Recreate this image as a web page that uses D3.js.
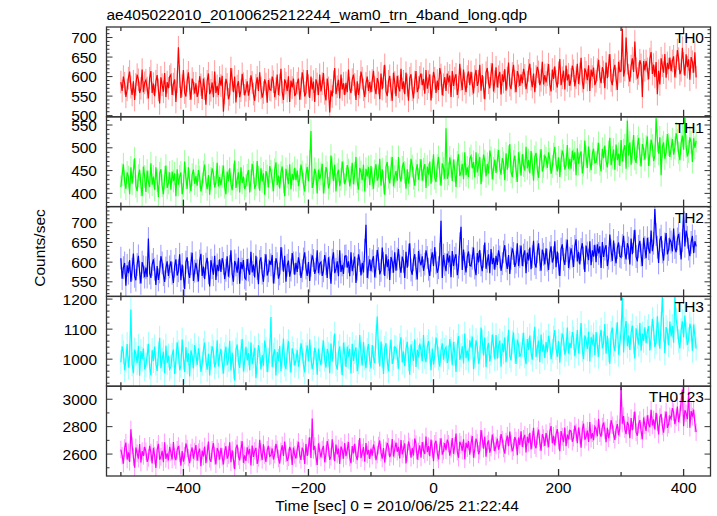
<!DOCTYPE html>
<html><head><meta charset="utf-8">
<script src="https://cdn.jsdelivr.net/npm/d3@7"></script>
<style>
html,body{margin:0;padding:0;background:#fff;}
text{font-family:"Liberation Sans",Arial,Helvetica,sans-serif;fill:#000;}
</style></head>
<body>
<svg id="chart" width="717" height="516"></svg>
<script>
const title = "ae405022010_20100625212244_wam0_trn_4band_long.qdp";
const xLabel = "Time [sec] 0 = 2010/06/25 21:22:44";
const yLabel = "Counts/sec";
const seriesNames = ["TH0","TH1","TH2","TH3","TH0123"];
const seriesColors = ["#ff0000","#00ff00","#0000ff","#00ffff","#ff00ff"];
const binStart = -500, binWidth = 2;
const xTickLabels = [-400,-200,0,200,400];
const errors = [29, 25, 29, 40, 64];
const yDomains = [[497,727],[371,568],[513,741],[910,1209],[2440,3095]];
const yMajor = [50,50,50,100,200];
const yMinor = [10,10,10,20,100];

const th0 = [
586,563,600,583,548,566,596,613,573,553,588,540,580,605,592,558,570,618,560,584,
591,571,544,596,614,558,582,550,588,604,566,531,598,579,561,609,548,586,570,600,
605,553,581,593,535,587,675,600,545,577,617,559,549,589,611,569,541,595,583,557,
583,548,561,601,579,543,595,569,528,588,608,555,565,585,547,613,558,576,553,598,
577,602,510,558,594,580,542,554,622,592,560,600,534,576,588,547,564,607,582,552,
565,588,551,568,603,585,555,538,578,598,563,611,571,546,559,593,581,533,591,567,
565,600,587,547,569,605,553,579,620,560,540,593,583,563,601,535,590,572,595,550,
557,583,595,541,569,611,589,549,559,617,577,545,600,567,587,535,593,581,553,605,
562,582,609,557,539,595,571,508,565,549,587,622,555,574,592,544,605,567,583,553,
584,560,618,570,558,592,605,580,540,588,553,573,613,596,566,548,583,600,563,586,
560,590,615,572,555,596,584,542,608,568,600,630,562,550,588,602,566,538,610,585,
550,602,574,562,620,568,588,555,610,578,538,596,606,566,544,586,614,560,572,598,
608,578,594,556,617,569,587,606,539,574,612,596,558,590,566,622,604,552,579,599,
563,608,585,603,548,614,576,596,606,553,573,633,592,566,618,582,560,600,613,578,
612,582,557,600,617,576,588,630,564,604,572,542,610,622,584,570,606,634,562,587,
624,572,600,612,554,606,586,619,564,596,636,578,568,608,630,588,560,614,602,576,
606,583,620,603,568,586,616,633,593,573,608,560,600,625,612,578,590,638,580,604,
585,605,632,580,562,618,594,626,588,572,610,645,578,597,615,567,628,590,606,576,
593,628,615,575,597,633,581,607,648,588,568,621,611,591,629,563,618,600,623,578,
588,618,643,600,583,624,612,570,636,596,628,658,590,578,616,630,594,566,638,613,
614,722,600,617,700,634,604,587,627,647,612,690,620,595,608,642,630,548,640,616,
640,620,593,645,663,607,631,599,637,555,615,580,647,628,610,658,597,635,619,649,
614,640,652,598,626,668,646,606,616,674,634,602,657,624,644,592,650,638,610,662,
598];
const th1 = [
414,441,464,425,410,446,436,398,457,421,450,477,416,405,439,452,419,394,459,437,
403,450,425,414,466,419,437,408,457,428,392,444,453,417,398,435,461,412,423,446,
408,448,427,444,394,453,419,437,446,398,416,470,434,410,457,425,405,441,452,421,
438,417,451,436,404,420,447,463,426,409,440,397,433,455,444,413,424,467,415,436,
418,437,461,414,398,448,427,455,421,407,441,472,412,429,446,402,457,423,437,410,
417,440,451,402,428,465,446,410,419,471,435,406,455,426,444,397,449,438,413,460,
448,429,405,452,468,418,439,411,445,459,425,394,454,437,420,464,409,443,429,456,
429,450,416,431,463,447,420,404,441,458,427,470,537,412,423,454,443,400,452,431,
443,465,400,425,458,445,411,422,483,456,427,463,404,442,452,416,431,470,447,420,
431,462,451,415,435,467,420,444,480,426,408,456,447,429,463,404,454,437,458,418,
460,433,410,449,464,428,438,476,417,453,424,397,458,469,435,422,455,480,415,437,
449,428,480,437,426,457,468,446,410,453,422,439,476,460,433,417,449,464,430,451,
475,428,453,464,412,459,441,470,421,450,486,434,425,461,480,443,417,466,455,432,
543,432,443,479,459,427,474,450,414,468,486,438,447,465,431,490,440,457,436,476,
482,455,469,435,490,446,463,480,420,451,485,471,437,465,444,494,478,431,455,474,
445,472,495,456,441,477,467,429,488,452,481,508,447,436,470,483,450,425,490,468,
439,486,461,450,502,455,473,444,493,464,428,480,489,453,434,471,497,448,459,482,
477,456,490,475,443,459,486,502,465,448,479,436,472,494,483,452,463,506,454,475,
454,494,473,490,440,499,465,483,492,444,462,516,480,456,503,471,451,487,498,467,
468,487,511,464,448,498,477,505,471,457,491,522,462,479,496,452,507,473,487,460,
517,470,495,506,454,560,483,512,463,492,528,476,467,503,522,485,459,508,497,474,
503,525,460,485,518,505,471,482,565,516,487,523,440,502,512,476,491,530,507,480,
498,519,485,500,532,516,489,473,510,527,496,570,503,481,492,523,512,469,521,500,
515];
const th2 = [
610,558,586,598,540,592,572,605,550,582,622,564,554,594,616,574,546,600,588,562,
586,562,660,572,560,594,607,582,542,590,555,575,615,598,568,550,585,602,565,588,
602,572,547,590,607,566,578,620,554,594,562,532,600,612,574,560,596,624,552,577,
598,578,551,603,621,565,589,557,595,611,573,538,605,586,568,616,555,593,577,607,
575,610,597,557,579,615,563,589,630,570,550,603,593,573,611,545,600,582,605,560,
556,608,580,568,626,574,594,561,616,584,544,602,612,572,550,592,620,566,578,604,
593,618,546,574,610,596,558,570,638,608,576,616,550,592,604,563,580,623,598,568,
598,575,612,595,560,578,608,625,585,565,600,552,592,617,604,570,582,630,572,596,
600,565,578,618,596,560,612,586,545,605,625,572,582,602,564,630,575,593,570,615,
616,586,602,564,625,577,595,614,547,582,620,604,566,598,574,630,695,560,587,607,
577,603,615,561,589,631,609,569,579,637,597,565,620,587,607,555,613,601,573,625,
578,608,633,590,573,614,602,560,626,586,618,648,580,568,606,620,584,556,628,603,
592,615,578,595,630,612,582,565,605,625,590,638,598,573,586,620,705,560,618,594,
577,622,599,617,562,628,590,610,620,567,587,647,690,580,632,596,574,614,627,592,
590,610,637,585,567,623,599,631,593,577,615,650,583,602,620,572,633,595,611,581,
616,593,630,613,578,596,626,643,603,583,618,570,610,635,622,588,600,648,590,614,
642,590,618,630,572,624,604,637,582,614,654,596,586,626,648,606,578,632,620,594,
635,605,580,623,640,599,611,653,587,627,595,565,633,645,607,593,629,657,585,610,
635,615,588,640,658,602,626,594,632,648,610,575,642,623,605,653,592,630,614,644,
600,645,622,640,585,651,613,633,643,590,610,670,629,603,655,619,597,637,650,615,
612,642,667,624,607,648,636,594,660,620,652,682,614,602,640,654,618,590,662,637,
610,662,634,622,680,628,648,735,670,638,598,656,666,626,604,646,674,620,632,658,
651,627,685,637,625,659,672,647,607,655,730,640,680,663,633,615,650,667,623,653,
640];
const th3 = [
990,1043,1023,963,996,1050,972,1011,1165,983,953,1032,1017,987,1044,945,1027,1001,1035,967,
981,1011,1051,973,946,1030,994,1042,985,961,1018,1071,970,999,1025,953,1045,988,1012,967,
975,1014,1032,951,993,1056,1023,963,978,1065,1005,957,1040,990,1020,942,1029,1011,969,1047,
1015,981,1036,1011,958,985,1030,1055,995,965,1018,946,1006,1043,1024,973,991,1063,976,1012,
1034,989,952,1016,1042,980,998,1061,962,1022,974,929,1031,1049,992,971,1025,1067,959,996,
1041,996,1020,963,1055,983,1009,1038,937,990,1047,1023,966,1014,978,1062,1035,957,997,1027,
1140,973,1015,1033,946,1024,994,1044,961,1009,1069,982,967,1027,1060,997,955,1036,1018,979,
996,1030,975,1000,1053,1026,981,956,1016,1046,993,1065,1005,968,987,1038,1020,948,1035,999,
980,1025,1062,998,972,1034,1016,953,1052,992,1040,1085,983,965,1022,1043,989,947,1055,1018,
974,1042,1008,1034,952,1051,994,1024,1039,960,990,1080,1018,979,1057,1003,970,1030,1050,997,
969,1047,1005,987,1074,1142,1026,976,1059,1011,951,1038,1053,993,960,1023,1065,984,1002,1041,
1038,1008,968,1046,1073,989,1025,977,1034,1058,1001,948,1049,1020,994,1066,974,1031,1007,1052,
1029,993,1080,1008,990,1041,1060,1023,963,1035,982,1012,1072,1047,1002,975,1028,1053,998,1032,
1040,987,1007,1067,1034,980,1058,1019,957,1047,1077,998,1013,1043,986,1085,1003,1029,995,1063,
1038,1075,967,1009,1063,1042,985,1003,1105,1060,1012,1072,973,1036,1054,992,1018,1082,1045,1000,
1080,1002,1044,1062,975,1053,1023,1073,990,1038,1098,1011,996,1056,1089,1026,984,1065,1047,1008,
1018,1048,1088,1010,983,1067,1031,1079,1022,998,1055,1108,1007,1036,1062,990,1082,1025,1049,1004,
1057,1023,1078,1053,1000,1027,1072,1097,1037,1007,1060,988,1048,1085,1066,1015,1033,1105,1018,1054,
1037,1090,1070,1010,1043,1097,1019,1058,1120,1030,1000,1079,1064,1034,1091,992,1074,1048,1082,1014,
1090,1045,1008,1072,1098,1036,1054,1117,1018,1078,1030,985,1087,1105,1048,1027,1081,1123,1015,1052,
1092,1205,1022,1100,1127,1043,1079,1031,1088,1112,1055,1002,1103,1074,1048,1120,1028,1085,1061,1106,
1053,1092,1110,1029,1071,1134,1101,1041,1056,1143,1083,1035,1118,1210,1098,1020,1107,1089,1047,1125,
1076,1110,1055,1210,1133,1106,1061,1036,1096,1126,1073,1145,1085,1048,1067,1118,1100,1028,1115,1079,
1035];
const th0123 = [
2633,2589,2530,2644,2684,2560,2613,2543,2780,2662,2578,2501,2648,2607,2567,2673,2538,2622,2587,2653,
2620,2543,2572,2660,2611,2532,2646,2589,2499,2631,2675,2558,2580,2624,2541,2686,2565,2605,2554,2653,
2613,2560,2688,2582,2556,2631,2659,2604,2516,2622,2545,2589,2677,2640,2574,2534,2611,2648,2567,2618,
2666,2552,2613,2640,2512,2626,2582,2655,2534,2604,2692,2565,2543,2631,2679,2587,2525,2644,2618,2560,
2646,2580,2525,2620,2657,2567,2593,2686,2540,2628,2558,2492,2642,2668,2584,2554,2633,2694,2536,2591,
2550,2649,2598,2638,2517,2662,2579,2623,2645,2528,2572,2704,2614,2557,2671,2592,2543,2631,2660,2583,
2590,2641,2560,2597,2674,2634,2568,2531,2619,2663,2586,2692,2604,2549,2577,2652,2626,2520,2648,2595,
2568,2634,2689,2594,2557,2647,2621,2528,2674,2586,2656,2722,2572,2860,2630,2660,2581,2520,2678,2623,
2575,2633,2659,2540,2602,2694,2646,2558,2580,2707,2619,2549,2670,2597,2641,2527,2655,2628,2567,2681,
2585,2629,2688,2574,2534,2658,2605,2675,2592,2556,2640,2717,2570,2611,2651,2545,2680,2596,2631,2565,
2640,2589,2670,2633,2556,2596,2662,2699,2611,2567,2644,2538,2626,2681,2653,2578,2604,2710,2582,2635,
2683,2617,2652,2568,2703,2597,2637,2678,2531,2608,2692,2656,2573,2643,2590,2714,2674,2560,2619,2663,
2574,2688,2627,2600,2728,2614,2658,2585,2706,2636,2548,2675,2697,2609,2561,2653,2715,2596,2622,2680,
2628,2705,2676,2588,2637,2716,2602,2659,2749,2617,2573,2690,2668,2624,2707,2562,2683,2643,2694,2595,
2676,2731,2573,2634,2713,2683,2599,2625,2775,2709,2639,2727,2581,2674,2700,2610,2647,2742,2687,2621,
2662,2713,2632,2669,2746,2706,2640,2603,2691,2735,2658,2764,2676,2621,2649,2724,2698,2592,2720,2667,
2766,2652,2713,2740,2612,2726,2682,2755,2634,2704,2792,2665,2643,2731,2779,2687,2625,2744,2718,2660,
2753,2709,2650,2764,2804,2680,2733,2663,2746,2782,2698,2621,2768,2727,2687,2793,2658,2742,2707,2773,
2767,2690,2719,2807,2758,2679,2793,2736,2646,2778,2822,2705,2727,2771,2688,2833,2712,2752,2701,2800,
2783,2730,2858,2752,2726,2801,2829,2774,2686,2792,2715,2759,2847,2810,2744,2704,2781,2818,2737,2788,
3090,2822,2877,2782,2745,2835,2809,2716,2862,2774,2844,2910,2760,2734,2818,2848,2769,2708,2866,2811,
2769,2883,2822,2795,2923,2809,2853,2780,2901,2831,2743,2870,2892,2804,2756,2848,2910,2791,2817,2875,
2858,2935,2906,2818,2867,2946,2832,2889,2979,3070,2803,2920,2898,2854,3050,2792,2913,2873,2924,2825,
2760];
const seriesValues = [th0, th1, th2, th3, th0123];

(function draw() {
  const svg = d3.select("#chart");
  const pL = 106.5, pR = 710.5, pT = 27, pB = 476;
  const nP = seriesValues.length;
  const pH = (pB - pT) / nP;
  const frameColor = "#333";

  const x = d3.scaleLinear().domain([-523, 443]).range([pL, pR]);
  const fmt = v => (v < 0 ? "\u2212" + Math.abs(v) : String(v));

  svg.append("text").attr("x", pL).attr("y", 20).attr("font-size", 15.5).text(title);

  const defs = svg.append("defs");

  seriesValues.forEach((vals, k) => {
    const y0 = pT + k * pH, y1 = y0 + pH;
    const y = d3.scaleLinear().domain(yDomains[k]).range([y1, y0]);
    const g = svg.append("g");
    defs.append("clipPath").attr("id", "clip" + k)
      .append("rect").attr("x", pL).attr("y", y0).attr("width", pR - pL).attr("height", pH);
    const data = vals.map((v, i) => ({t: binStart + i * binWidth, v}));
    const col = seriesColors[k];
    const pg = g.append("g").attr("clip-path", `url(#clip${k})`);
    pg.selectAll("line.err").data(data).join("line").attr("class", "err")
      .attr("x1", d => x(d.t)).attr("x2", d => x(d.t))
      .attr("y1", d => y(d.v - errors[k])).attr("y2", d => y(d.v + errors[k]))
      .attr("stroke", col).attr("stroke-opacity", 0.4).attr("stroke-width", 1);
    pg.append("path").datum(data)
      .attr("d", d3.line().x(d => x(d.t)).y(d => y(d.v)))
      .attr("fill", "none").attr("stroke", col).attr("stroke-width", 1.2);

    const [lo, hi] = yDomains[k];
    const minorT = d3.range(Math.ceil(lo / yMinor[k]) * yMinor[k], hi + 0.001, yMinor[k]);
    minorT.forEach(v => {
      const major = Math.abs(v % yMajor[k]) < 1e-6;
      const len = major ? 6 : 3;
      g.append("line").attr("x1", pL).attr("x2", pL + len).attr("y1", y(v)).attr("y2", y(v))
        .attr("stroke", frameColor).attr("stroke-width", 1);
      g.append("line").attr("x1", pR).attr("x2", pR - len).attr("y1", y(v)).attr("y2", y(v))
        .attr("stroke", frameColor).attr("stroke-width", 1);
      if (major) {
        g.append("text").attr("x", 97).attr("y", y(v)).attr("dy", "0.36em")
          .attr("text-anchor", "end").attr("font-size", 15.5).text(fmt(v));
      }
    });

    d3.range(-500, 443, 100).forEach(t => {
      const major = xTickLabels.includes(t);
      const len = major ? 7 : 4;
      g.append("line").attr("x1", x(t)).attr("x2", x(t)).attr("y1", y0).attr("y2", y0 + len)
        .attr("stroke", frameColor).attr("stroke-width", 1.3);
      g.append("line").attr("x1", x(t)).attr("x2", x(t)).attr("y1", y1).attr("y2", y1 - len)
        .attr("stroke", frameColor).attr("stroke-width", 1.3);
    });

    g.append("rect").attr("x", pL).attr("y", y0).attr("width", pR - pL).attr("height", pH)
      .attr("fill", "none").attr("stroke", frameColor).attr("stroke-width", 1.3);

    g.append("text").attr("x", 704).attr("y", y0 + 16).attr("text-anchor", "end")
      .attr("font-size", 15.5).text(seriesNames[k]);
  });

  xTickLabels.forEach(t => {
    svg.append("text").attr("x", x(t)).attr("y", 493).attr("text-anchor", "middle")
      .attr("font-size", 15.5).text(fmt(t));
  });

  svg.append("text").attr("x", 397).attr("y", 511).attr("text-anchor", "middle")
    .attr("font-size", 15.5).text(xLabel);
  svg.append("text").attr("transform", "translate(45,248) rotate(-90)")
    .attr("text-anchor", "middle").attr("font-size", 15.5).text(yLabel);
})();
</script>
</body></html>
